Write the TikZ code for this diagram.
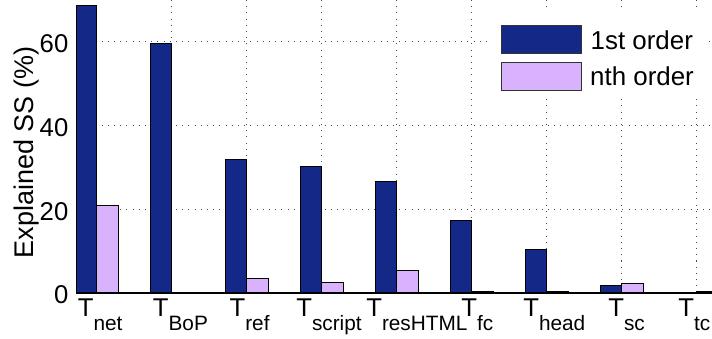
\documentclass[tikz,border=0pt]{standalone}
\usepackage{fontspec}
\setmainfont{Liberation Sans}
\definecolor{firstord}{RGB}{20,40,135}
\definecolor{nthord}{RGB}{216,178,252}
\newcommand{\lowsub}[1]{\raisebox{-13.3pt}{\fontsize{20.8}{22}\selectfont #1}}

\begin{document}
\begin{tikzpicture}[x=1pt,y=-1pt,
  gridline/.style={black!70, line width=0.9pt, dash pattern=on 1.1pt off 5.1pt},
  barA/.style={fill=firstord, draw=black, line width=0.9pt},
  barB/.style={fill=nthord, draw=black, line width=0.9pt},
  ticklbl/.style={font=\fontsize{25.7}{30}\selectfont, inner sep=0pt, anchor=east},
  catlbl/.style={font=\fontsize{25.7}{30}\selectfont, inner sep=0pt, anchor=base west},
  leglbl/.style={font=\fontsize{25.9}{30}\selectfont, inner sep=0pt, anchor=base west},
]
\useasboundingbox (0,0) rectangle (712,339);
\fill[white] (0,0) rectangle (712,339);

\begin{scope}
  \clip (0,0) rectangle (712,339);
  % dotted grid
  \foreach \v in {20,40,60}
    \draw[gridline] (76.7,{293-4.185*\v}) -- (712,{293-4.185*\v});
  \foreach \i in {2,...,9}
    \draw[gridline] ({96.7+75*(\i-1)},0) -- ({96.7+75*(\i-1)},293);

  % legend background
  \fill[white] (488,9) rectangle (707,97);

  % grouped bars: index / 1st order / nth order
  \foreach \i/\a/\b in {1/68.8/20.9, 2/59.7/0.2, 3/31.8/3.5, 4/30.3/2.5,
                        5/26.6/5.3, 6/17.4/0.3, 7/10.3/0.4, 8/1.9/2.2, 9/0.2/0.3} {
    \pgfmathsetmacro\c{96.7+75*(\i-1)}
    \pgfmathsetmacro\l{max(\c-21.5,76.7)}
    \draw[barA] (\l,293) rectangle (\c,{293-4.185*\a});
    \draw[barB] (\c,293) rectangle ({\c+21.5},{293-4.185*\b});
  }

  % x axis
  \draw[black, line width=1.2pt] (76.7,293) -- (712,293);
\end{scope}

% y tick labels
\node[ticklbl] (y0)  at (68.5,295) {0};
\node[ticklbl] (y20) at (68.5,211.3) {20};
\node[ticklbl] (y40) at (68.5,127.6) {40};
\node[ticklbl] (y60) at (68.5,43.9) {60};

% y axis label
\node[font=\fontsize{27}{30}\selectfont, rotate=90, anchor=base, inner sep=0pt]
  (ylab) at (33.3,152.5) {Explained SS (\%)};

% category labels
\node[catlbl] (tnet)    at (77.7,316.7)  {T\lowsub{net}};
\node[catlbl] (tbop)    at (152.7,316.7) {T\lowsub{BoP}};
\node[catlbl] (tref)    at (229.4,316.7) {T\lowsub{ref}};
\node[catlbl] (tscript) at (296.1,316.7) {T\lowsub{script}};
\node[catlbl] (treshtml) at (366.1,316.7) {T\lowsub{resHTML}};
\node[catlbl] (tfc)     at (461.1,316.7) {T\lowsub{fc}};
\node[catlbl] (thead)   at (523.1,316.7) {T\lowsub{head}};
\node[catlbl] (tsc)     at (608.1,316.7) {T\lowsub{sc}};
\node[catlbl] (ttc)     at (678.1,316.7) {T\lowsub{tc}};

% legend
\draw[fill=firstord, draw=black!80, line width=0.9pt] (501.7,25.7) rectangle (581.7,53.3);
\draw[fill=nthord, draw=black!80, line width=0.9pt] (501.7,62.7) rectangle (581.7,90);
\node[leglbl] (lg1) at (590.5,50) {1st order};
\node[leglbl] (lg2) at (590,86) {nth order};
\end{tikzpicture}
\end{document}
